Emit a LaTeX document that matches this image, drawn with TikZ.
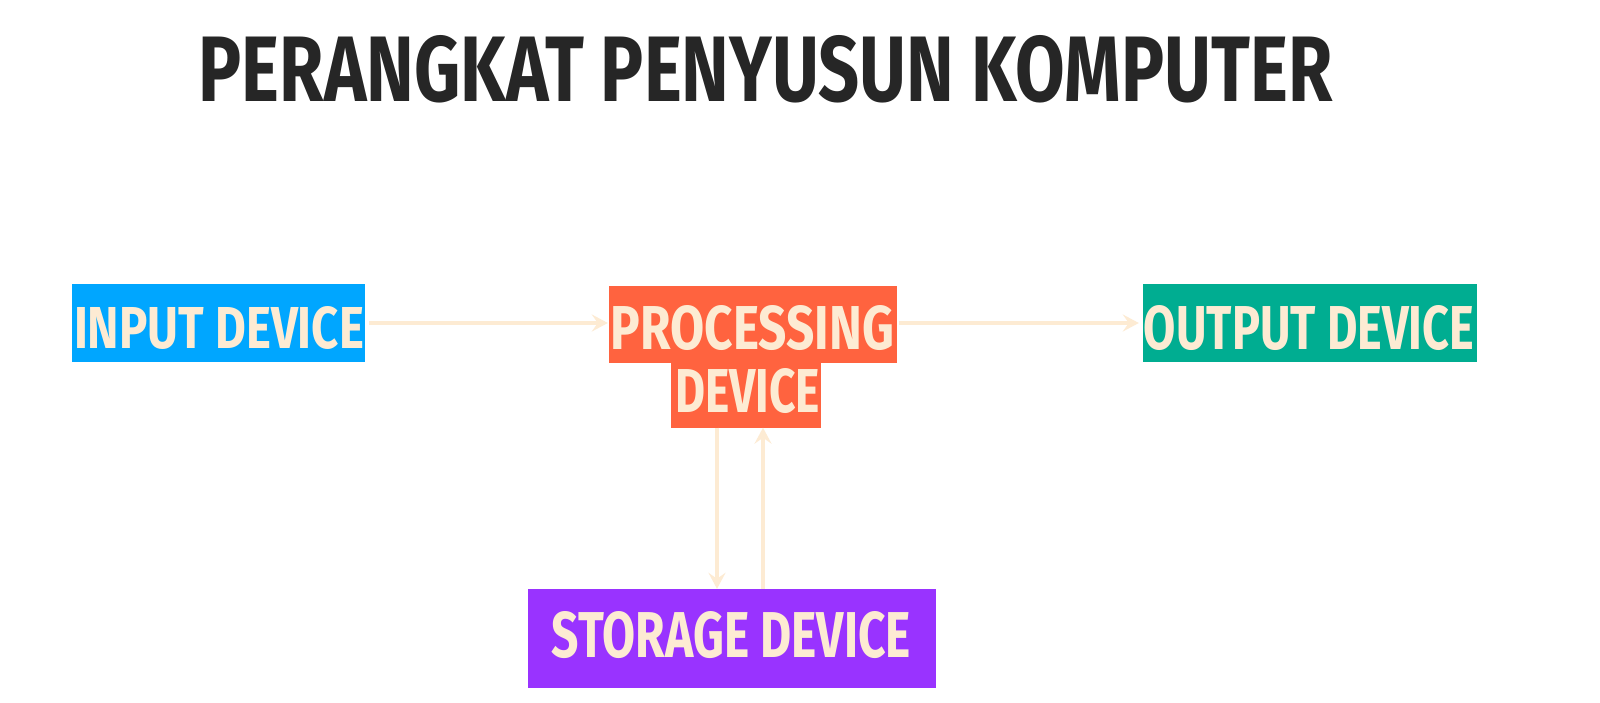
\documentclass[tikz,border=0pt]{standalone}
\usepackage{fontspec}
\setmainfont{Fira Sans}[BoldFont=* Bold]
\usetikzlibrary{arrows.meta,calc}
\definecolor{inblue}{HTML}{00A6FF}
\definecolor{procred}{HTML}{FF633F}
\definecolor{outteal}{HTML}{00AD91}
\definecolor{stopurple}{HTML}{9933FF}
\definecolor{cream}{HTML}{FDEBD3}
\definecolor{ink}{HTML}{262626}
% fit a bold label into a given width and height
\newcommand{\fitlabel}[3]{\resizebox{#1pt}{#2pt}{\bfseries #3}}
\begin{document}
\begin{tikzpicture}[x=1pt,y=-1pt,
  box/.style={draw=none,inner sep=0,minimum width=#1},
  lbl/.style={inner sep=0,text=cream},
  arr/.style={draw=cream,line width=4.5pt,-{Stealth[length=16pt,width=17pt,inset=6pt]}}]
\useasboundingbox[fill=white] (0,0) rectangle (1600,702);
% title
\node[inner sep=0,text=ink] (title) at (765.5,69) {\fitlabel{1133}{66}{PERANGKAT PENYUSUN KOMPUTER}};
% boxes
\node[box=293,fill=inblue,minimum height=78] (in) at (218.5,323) {};
\node[box=288,fill=procred,minimum height=77] (proc) at (753,324.5) {};
\node[box=150,fill=procred,minimum height=65] (procb) at (746,395) {};
\node[box=334,fill=outteal,minimum height=78] (out) at (1310,323) {};
\node[box=408,fill=stopurple,minimum height=99] (sto) at (732,638.5) {};
% labels
\node[lbl] (inl) at (219,328) {\fitlabel{290}{42}{INPUT DEVICE}};
\node[lbl] (procl) at (752.5,328) {\fitlabel{283}{44}{PROCESSING}};
\node[lbl] (procbl) at (747.5,391) {\fitlabel{145}{44}{DEVICE}};
\node[lbl] (outl) at (1309,328) {\fitlabel{330}{44}{OUTPUT DEVICE}};
\node[lbl] (stol) at (731.5,635) {\fitlabel{359}{46}{STORAGE DEVICE}};
% connectors
\draw[arr,shorten <=4pt,shorten >=1pt] (in.east) -- (in.east -| proc.west);
\draw[arr,shorten <=2pt,shorten >=4pt] (proc.east |- out.west) -- (out.west);
\coordinate (dtop) at ($(procb.south)+(-29,0)$);
\coordinate (utop) at ($(procb.south)+(17,0)$);
\draw[arr] (dtop) -- (dtop |- sto.north);
\draw[arr] (utop |- sto.north) -- (utop);
\end{tikzpicture}
\end{document}
